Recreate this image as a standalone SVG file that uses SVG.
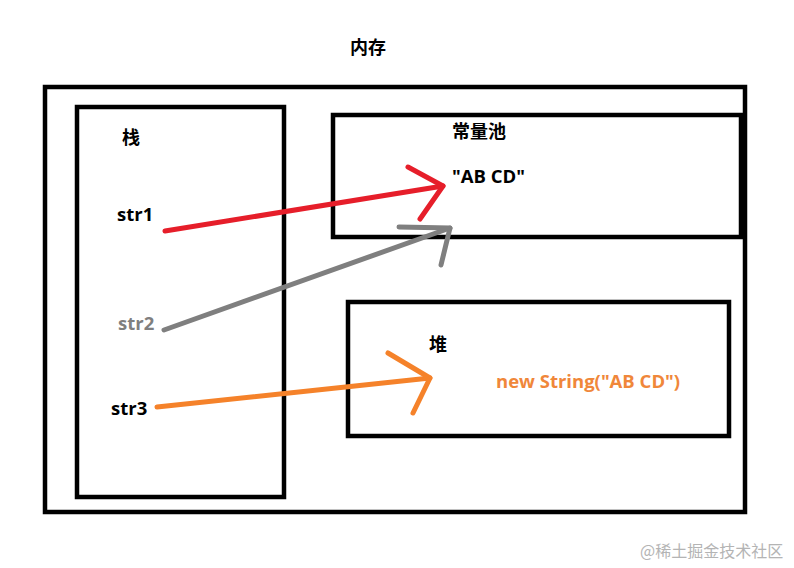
<svg xmlns="http://www.w3.org/2000/svg" width="794" height="568" viewBox="0 0 794 568">
<style>
.box{fill:none;stroke:#000;stroke-width:4.5}
.t{font-family:"Open Sans","Noto Sans CJK SC",sans-serif;font-weight:bold;font-size:18.5px;fill:#000}
.c{font-family:"Noto Sans CJK SC",sans-serif;font-weight:bold;font-size:18px;fill:#000}
.a{fill:none;stroke-width:5;stroke-linecap:round;stroke-linejoin:round}
</style>
<rect width="794" height="568" fill="#fff"/>
<g id="title"><text class="c" x="350" y="54">内存</text></g>
<g id="memory"><rect class="box" x="45" y="87" width="700" height="425"/></g>
<g id="stack">
<rect class="box" x="77" y="107" width="207" height="390"/>
<text class="c" x="122" y="144">栈</text>
<text class="t" x="117" y="221">str1</text>
<text class="t" x="118" y="330" style="fill:#7f7f7f">str2</text>
<text class="t" x="111" y="415">str3</text>
</g>
<g id="pool">
<rect class="box" x="333" y="115" width="408" height="122"/>
<text class="c" x="452" y="138">常量池</text>
<text class="t" x="452" y="183">"AB CD"</text>
</g>
<g id="heap">
<rect class="box" x="348" y="302" width="381" height="134"/>
<text class="c" x="429" y="351">堆</text>
<text class="t" x="496" y="388" style="fill:#f0873a">new String("AB CD")</text>
</g>
<g id="connectors">
<g stroke="#e61e2a" class="a">
<line x1="165" y1="231" x2="443" y2="186"/>
<polyline points="408,167 443,186 420,219"/>
</g>
<g stroke="#7f7f7f" class="a">
<line x1="164" y1="330" x2="450" y2="228"/>
<polyline points="399,227 450,228 441,265"/>
</g>
<g stroke="#f5822a" class="a">
<line x1="157" y1="407" x2="430" y2="378"/>
<polyline points="388,353 430,378 413,413"/>
</g>
</g>
<g id="watermark"><text x="640" y="557" style="font-family:'Noto Sans CJK SC',sans-serif;font-size:16px;fill:#b4b4b4">@稀土掘金技术社区</text></g>
</svg>
